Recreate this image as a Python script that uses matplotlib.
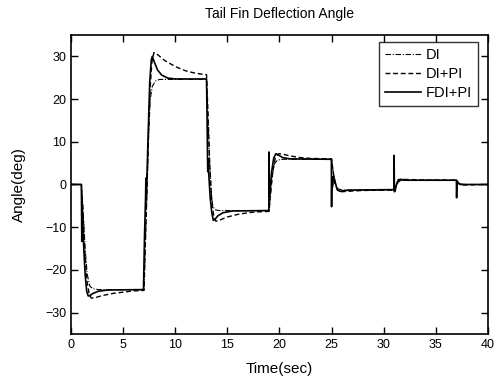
import matplotlib
matplotlib.use("Agg")

import matplotlib.pyplot as plt

# DI (dash-dot)
t_di = [0, 1.0, 1.15, 1.35, 1.55, 1.8, 2.1, 2.6, 7.0,
        7.15, 7.3, 7.45, 7.6, 7.8, 8.1, 8.5, 13.0,
        13.15, 13.3, 13.45, 13.6, 13.8, 14.2, 19.0,
        19.15, 19.3, 19.5, 19.8, 20.3, 25.0,
        25.15, 25.35, 25.6, 26.0, 31.0,
        31.2, 31.4, 31.8, 32.3, 37.0,
        37.2, 37.5, 38.0, 40.0]
y_di = [0, 0, -6, -15, -21, -23.8, -24.4, -24.6, -24.6,
        -12, 0, 12, 20, 23, 24.2, 24.6, 24.6,
        15, 5, -2, -5, -5.9, -6.1, -6.1,
        -2, 2, 4.8, 5.7, 5.9, 5.9,
        3, 0, -1.0, -1.3, -1.3,
        -0.2, 0.6, 0.95, 1.0, 1.0,
        0.4, 0.05, 0, 0]

# DI+PI (dashed)
t_dipi = [0, 1.0, 1.15, 1.35, 1.55, 1.75, 1.95, 2.3, 3.0, 4.0, 5.0, 6.0, 7.0,
          7.15, 7.3, 7.45, 7.6, 7.75, 7.95, 8.3, 9.0, 10.0, 11.0, 12.0, 13.0,
          13.15, 13.3, 13.5, 13.7, 13.9, 14.3, 15.0, 16.0, 17.0, 18.0, 19.0,
          19.15, 19.35, 19.6, 19.9, 20.3, 21.0, 22.0, 23.0, 25.0,
          25.15, 25.35, 25.6, 25.9, 26.5, 28.0, 31.0,
          31.2, 31.45, 31.8, 32.5, 34.0, 37.0,
          37.2, 37.5, 38.0, 40.0]
y_dipi = [0, 0, -7, -17, -23, -25.8, -26.6, -26.5, -26.0, -25.5, -25.2, -24.9, -24.8,
          -12, 0, 13, 23, 28.5, 30.9, 30.4, 29.0, 27.6, 26.6, 26.0, 25.7,
          16, 5, -4, -7.5, -8.6, -8.3, -7.6, -7.0, -6.6, -6.4, -6.3,
          -2, 3, 6.2, 7.2, 7.1, 6.7, 6.3, 6.1, 6.0,
          3, 0, -1.4, -1.7, -1.6, -1.4, -1.3,
          -0.2, 0.8, 1.2, 1.15, 1.05, 1.0,
          0.3, -0.15, -0.1, 0]

# FDI+PI (solid)
t_fdi = [0, 0.98, 1.0, 1.03, 1.06, 1.1, 1.2, 1.35, 1.5, 1.65, 1.8, 2.1, 2.6, 3.5, 6.95,
         7.05, 7.15, 7.18, 7.21, 7.25, 7.4, 7.55, 7.7, 7.8, 8.0, 8.3, 8.7, 9.3, 10.0, 13.0,
         13.05, 13.1, 13.12, 13.15, 13.2, 13.35, 13.5, 13.65, 13.8, 14.1, 14.6, 15.5, 18.98,
         19.0, 19.03, 19.1, 19.25, 19.45, 19.65, 19.9, 20.3, 21.0, 24.98,
         25.0, 25.03, 25.1, 25.2, 25.35, 25.55, 25.8, 26.3, 27.0, 30.98,
         31.0, 31.03, 31.1, 31.25, 31.4, 31.6, 32.2, 36.98,
         37.0, 37.03, 37.15, 37.35, 40.0]
y_fdi = [0, 0, -3, -13.3, -4, -8, -14, -21, -25, -26.1, -26.0, -25.5, -25.0, -24.7, -24.6,
         -12, -3, 1.5, -3.5, -1, 12, 24, 29.2, 30.0, 28.6, 26.8, 25.6, 24.9, 24.7, 24.7,
         16, 5.5, 3, 6, 3, -3, -6.5, -8.4, -8.2, -7.3, -6.6, -6.2, -6.1,
         7.6, -2.8, -1, 3, 6.2, 7.2, 6.9, 6.3, 6.0, 5.9,
         -5.2, 1.8, -0.5, 2.0, 0.5, -1.2, -1.6, -1.4, -1.3, -1.2,
         6.8, -1.7, -1.5, 0.2, 1.1, 1.2, 1.0, 1.0,
         -3.1, 0.8, 0.3, 0.0, 0]

x_ticks = [0, 5, 10, 15, 20, 25, 30, 35, 40]
y_ticks = [-30, -20, -10, 0, 10, 20, 30]

plt.rcParams["font.family"] = ["Liberation Sans", "DejaVu Sans"]

fig = plt.figure(figsize=(5.04, 3.8), dpi=100, facecolor="white")
ax = fig.add_axes([0.141, 0.121, 0.827, 0.787])

ax.plot(t_di, y_di, color="black", lw=0.8, ls=(0, (5, 1.5, 1, 1.5)), label="DI")
ax.plot(t_dipi, y_dipi, color="black", lw=1.0, ls=(0, (3.5, 2)), label="DI+PI")
ax.plot(t_fdi, y_fdi, color="black", lw=1.2, ls="-", label="FDI+PI")

ax.set_xlim(0, 40)
ax.set_ylim(-35, 35)
ax.set_xticks(x_ticks)
ax.set_yticks(y_ticks)
ax.tick_params(direction="in", top=True, right=True, length=5, width=1, labelsize=9)
for sp in ax.spines.values():
    sp.set_linewidth(1.2)

ax.set_title("Tail Fin Deflection Angle", fontsize=10, pad=12)
ax.set_xlabel("Time(sec)", fontsize=11, labelpad=8)
ax.set_ylabel("Angle(deg)", fontsize=11, labelpad=14)

leg = ax.legend(loc="upper right", bbox_to_anchor=(0.976, 0.977), fontsize=10.5,
                frameon=True, fancybox=False, edgecolor="black",
                handlelength=2.5, handletextpad=0.3, borderaxespad=0,
                labelspacing=0.35, borderpad=0.4)
leg.get_frame().set_linewidth(1.0)

fig.savefig("out.png", dpi=100, facecolor="white")
